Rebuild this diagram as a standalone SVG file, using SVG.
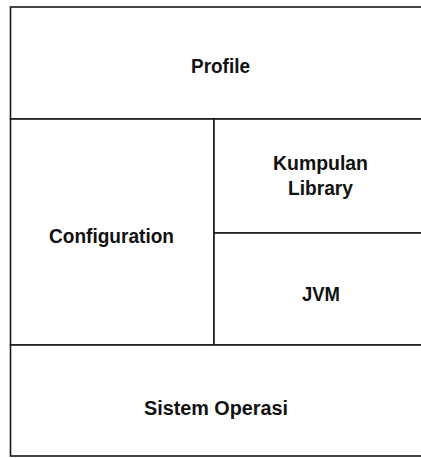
<svg xmlns="http://www.w3.org/2000/svg" width="421" height="458" viewBox="0 0 421 458">
  <style>
    .box { fill: #ffffff; stroke: #1a1a1a; stroke-width: 1.6; }
    .label { font-family: "Liberation Sans", Arial, sans-serif; font-size: 20px; font-weight: bold; fill: #111111; text-anchor: middle; }
  </style>
  <rect width="421" height="458" fill="#ffffff"/>
  <!-- layered platform stack; right edges run past the canvas -->
  <g id="profile">
    <rect class="box" x="10.5" y="7" width="420" height="112"/>
    <text class="label" x="220.5" y="73" textLength="59" lengthAdjust="spacingAndGlyphs">Profile</text>
  </g>
  <g id="configuration">
    <rect class="box" x="10.5" y="119" width="203.5" height="226"/>
    <text class="label" x="111.5" y="243" textLength="125" lengthAdjust="spacingAndGlyphs">Configuration</text>
  </g>
  <g id="kumpulan-library">
    <rect class="box" x="214" y="119" width="216" height="114"/>
    <text class="label" x="320.5" y="170" textLength="95" lengthAdjust="spacingAndGlyphs">Kumpulan</text>
    <text class="label" x="320.5" y="195" textLength="65" lengthAdjust="spacingAndGlyphs">Library</text>
  </g>
  <g id="jvm">
    <rect class="box" x="214" y="233" width="216" height="112"/>
    <text class="label" x="321" y="301" textLength="38" lengthAdjust="spacingAndGlyphs">JVM</text>
  </g>
  <g id="sistem-operasi">
    <rect class="box" x="10.5" y="345" width="420" height="111"/>
    <text class="label" x="216" y="415" textLength="144" lengthAdjust="spacingAndGlyphs">Sistem Operasi</text>
  </g>
  <g id="connectors"></g>
</svg>
